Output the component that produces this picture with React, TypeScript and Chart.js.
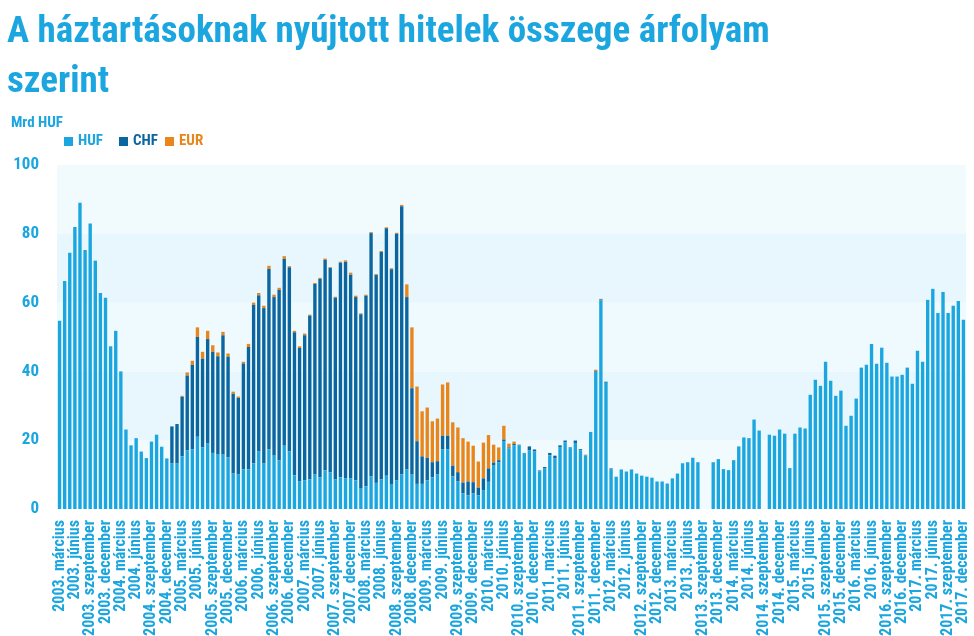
import React, { useEffect, useRef } from 'react';
import { Chart, registerables } from 'chart.js';

Chart.register(...registerables);

// ---- data ----
const startYear = 2003;
const startMonth = 3; // március
const monthNames = ['január', 'február', 'március', 'április', 'május', 'június', 'július', 'augusztus', 'szeptember', 'október', 'november', 'december'];
const tickEvery = 3;

const huf = [
  54.7, 66.3, 74.5, 82.0, 89.0, 75.3, 83.0, 72.2, 62.8, 61.4, 47.3, 51.8, 40.0, 23.1, 18.5, 20.6, 16.7, 14.8, 19.6, 21.6,
  18.1, 14.7, 13.2, 13.2, 15.3, 17.0, 17.3, 21.0, 17.9, 19.0, 16.3, 15.8, 15.8, 15.0, 10.3, 10.0, 11.5, 11.5, 13.2, 16.7,
  13.2, 17.3, 15.5, 14.1, 18.4, 16.7, 9.8, 8.1, 8.4, 8.6, 10.0, 9.2, 11.2, 10.6, 8.6, 9.2, 8.9, 8.9, 8.3, 6.1,
  6.6, 9.5, 7.6, 8.6, 9.7, 7.3, 8.3, 10.0, 11.5, 10.0, 7.3, 7.3, 8.3, 9.2, 10.0, 17.3, 17.3, 9.5, 8.1, 4.6,
  4.0, 4.5, 4.0, 5.5, 7.9, 12.6, 13.6, 19.6, 17.6, 18.5, 18.5, 16.1, 17.1, 16.7, 10.9, 11.9, 15.6, 14.8, 18.0, 19.4,
  17.7, 19.2, 17.1, 15.5, 22.4, 39.9, 60.7, 36.7, 11.6, 9.4, 11.5, 10.9, 11.5, 10.3, 9.7, 9.4, 9.1, 8.0, 8.0, 7.4,
  8.9, 10.3, 13.3, 13.6, 14.9, 13.6, 0, 0, 13.6, 14.5, 11.6, 11.3, 14.2, 18.2, 20.8, 20.6, 26.0, 22.8, 0, 21.6,
  21.3, 23.1, 21.9, 11.9, 21.9, 23.7, 23.4, 33.2, 37.6, 35.8, 42.8, 37.3, 32.9, 34.4, 24.2, 27.1, 32.1, 41.1, 41.9, 48.0,
  42.2, 46.9, 42.5, 38.5, 38.5, 39.0, 41.1, 36.4, 46.0, 42.8, 60.8, 64.0, 57.0, 63.1, 57.0, 59.1, 60.5, 55.0,
];

const chf = [
  0, 0, 0, 0, 0, 0, 0, 0, 0, 0, 0, 0, 0, 0, 0, 0, 0, 0, 0, 0,
  0, 0, 10.8, 11.5, 17.3, 21.8, 24.6, 29.0, 25.8, 30.4, 29.4, 28.6, 34.7, 29.3, 23.2, 22.3, 30.8, 35.6, 46.1, 45.4,
  45.2, 52.5, 46.1, 49.6, 54.3, 53.6, 41.6, 38.7, 42.1, 47.6, 55.4, 57.7, 61.2, 59.5, 52.8, 62.4, 63.0, 59.2, 53.3, 50.5,
  55.4, 70.7, 60.4, 66.1, 71.9, 62.4, 71.7, 78.0, 50.1, 25.1, 12.4, 8.0, 6.6, 4.4, 3.9, 4.0, 4.0, 3.1, 2.6, 3.1,
  4.0, 3.3, 2.2, 3.4, 3.9, 0.9, 0.6, 0.6, 0.3, 0.4, 0.2, 0.2, 1.1, 0.6, 0.3, 0.3, 0.7, 0.7, 0.5, 0.5,
  0.2, 0.7, 0.3, 0.1, 0, 0.2, 0.2, 0.3, 0.2, 0, 0, 0, 0, 0, 0, 0, 0, 0, 0, 0,
  0, 0, 0, 0, 0, 0, 0, 0, 0, 0, 0, 0, 0, 0, 0, 0, 0, 0, 0, 0,
  0, 0, 0, 0, 0, 0, 0, 0, 0, 0, 0, 0, 0, 0, 0, 0, 0, 0, 0, 0,
  0, 0, 0, 0, 0, 0, 0, 0, 0, 0, 0, 0, 0, 0, 0, 0, 0, 0,
];

const eur = [
  0, 0, 0, 0, 0, 0, 0, 0, 0, 0, 0, 0, 0, 0, 0, 0, 0, 0, 0, 0,
  0, 0, 0, 0, 0.3, 0.9, 1.2, 2.8, 2.0, 2.4, 1.9, 1.1, 1.0, 0.9, 0.6, 0.4, 0.5, 0.9, 0.7, 0.7,
  0.7, 0.9, 0.7, 0.6, 0.8, 0.3, 0.4, 0.5, 0.5, 0.3, 0.3, 0.3, 0.4, 0.2, 0.3, 0.3, 0.4, 0.6, 0.4, 0.3,
  0.3, 0.3, 0.3, 0.3, 0.3, 0.3, 0.3, 0.4, 3.7, 17.7, 15.9, 13.1, 14.6, 11.9, 12.4, 14.9, 15.5, 12.6, 13.0, 12.9,
  11.6, 10.6, 7.6, 10.4, 9.7, 5.2, 3.7, 4.0, 1.1, 0.7, 0, 0, 0, 0, 0, 0, 0, 0, 0, 0,
  0, 0, 0, 0.2, 0, 0.4, 0.2, 0, 0, 0, 0, 0, 0, 0, 0, 0, 0, 0, 0, 0,
  0, 0, 0, 0, 0, 0, 0, 0, 0, 0, 0, 0, 0, 0, 0, 0, 0, 0, 0, 0,
  0, 0, 0, 0, 0, 0, 0, 0, 0, 0, 0, 0, 0, 0, 0, 0, 0, 0, 0, 0,
  0, 0, 0, 0, 0, 0, 0, 0, 0, 0, 0, 0, 0, 0, 0, 0, 0, 0,
];

const seriesNames = ['HUF', 'CHF', 'EUR'];
const yTicks = [0, 20, 40, 60, 80, 100];

const titleLines = ['A háztartásoknak nyújtott hitelek összege árfolyam', 'szerint'];
const unitText = 'Mrd HUF';

// ---- styles ----
const FONT = '"Roboto Condensed", "Open Sans Condensed", "DejaVu Sans Condensed", sans-serif';
const C_TEXT = '#1ba6df';
const C_HUF = '#1ba6df';
const C_CHF = '#0b659f';
const C_EUR = '#e8861c';
const bandColors = ['#f1fbfe', '#e7f7fd', '#effafe', '#e7f7fd', '#f1fbfe'];
const legendLeft = [64, 119, 165];

const categories: string[] = huf.map((_, i) => {
  const m = startMonth - 1 + i;
  const year = startYear + Math.floor(m / 12);
  return `${year}. ${monthNames[m % 12]}`;
});

const bandsPlugin = {
  id: 'bands',
  beforeDatasetsDraw(chart: any) {
    const { ctx, chartArea, scales } = chart;
    const y = scales.y;
    ctx.save();
    for (let i = 0; i < yTicks.length - 1; i++) {
      const top = y.getPixelForValue(yTicks[i + 1]);
      const bottom = y.getPixelForValue(yTicks[i]);
      ctx.fillStyle = bandColors[i % bandColors.length];
      ctx.fillRect(chartArea.left, top, chartArea.right - chartArea.left, bottom - top);
    }
    ctx.restore();
  },
};

export default function App() {
  const ref = useRef<HTMLCanvasElement | null>(null);

  useEffect(() => {
    document.body.style.margin = '0';
    const canvas = ref.current;
    if (!canvas) return;
    const chart = new Chart(canvas, {
      type: 'bar',
      data: {
        labels: categories,
        datasets: [
          { label: seriesNames[0], data: huf, backgroundColor: C_HUF, stack: 's' },
          { label: seriesNames[1], data: chf, backgroundColor: C_CHF, stack: 's' },
          { label: seriesNames[2], data: eur, backgroundColor: C_EUR, stack: 's' },
        ],
      },
      options: {
        responsive: false,
        animation: false,
        layout: { padding: { top: 165, right: 8, left: 0, bottom: 0 } },
        datasets: { bar: { barPercentage: 0.66, categoryPercentage: 1 } },
        plugins: {
          legend: { display: false },
          tooltip: { enabled: false },
          title: { display: false },
        },
        scales: {
          x: {
            stacked: true,
            grid: { display: false },
            border: { display: false },
            ticks: {
              autoSkip: false,
              minRotation: 90,
              maxRotation: 90,
              padding: 3,
              color: C_TEXT,
              font: { family: FONT, size: 16, weight: 'bold' },
              callback: (_v: any, i: number) => (i % tickEvery === 0 ? categories[i] : ''),
            },
            afterFit: (scale: any) => {
              scale.height = 127;
              scale.paddingLeft = 0;
              scale.paddingRight = 0;
            },
          },
          y: {
            stacked: true,
            min: 0,
            max: 100,
            grid: { display: false },
            border: { display: false },
            ticks: {
              stepSize: 20,
              padding: 10,
              color: C_TEXT,
              font: { family: FONT, size: 17, weight: 'bold' },
            },
            afterFit: (scale: any) => {
              scale.width = 57;
            },
          },
        },
      },
      plugins: [bandsPlugin],
    } as any);
    return () => chart.destroy();
  }, []);

  const legendColors = [C_HUF, C_CHF, C_EUR];

  return (
    <div style={{ position: 'relative', width: 974, height: 636, overflow: 'hidden', background: '#fff' }}>
      <canvas ref={ref} width={974} height={636} style={{ position: 'absolute', left: 0, top: 0, width: 974, height: 636 }} />
      <div
        style={{
          position: 'absolute',
          left: 7,
          top: 5,
          fontFamily: FONT,
          fontWeight: 'bold',
          fontSize: 37,
          lineHeight: '50px',
          color: C_TEXT,
          whiteSpace: 'nowrap',
        }}
      >
        {titleLines.map((l) => (
          <div key={l}>{l}</div>
        ))}
      </div>
      <div
        style={{
          position: 'absolute',
          left: 11,
          top: 113,
          fontFamily: FONT,
          fontWeight: 'bold',
          fontSize: 15,
          color: C_TEXT,
        }}
      >
        {unitText}
      </div>
      {seriesNames.map((n, i) => (
        <div
          key={n}
          style={{
            position: 'absolute',
            left: legendLeft[i],
            top: 131,
            display: 'flex',
            alignItems: 'center',
            fontFamily: FONT,
            fontWeight: 'bold',
            fontSize: 15,
            whiteSpace: 'nowrap',
          }}
        >
          <span style={{ display: 'inline-block', width: 9, height: 9, background: legendColors[i], marginRight: 5, marginTop: 3 }} />
          <span style={{ color: legendColors[i] }}>{n}</span>
        </div>
      ))}
    </div>
  );
}
